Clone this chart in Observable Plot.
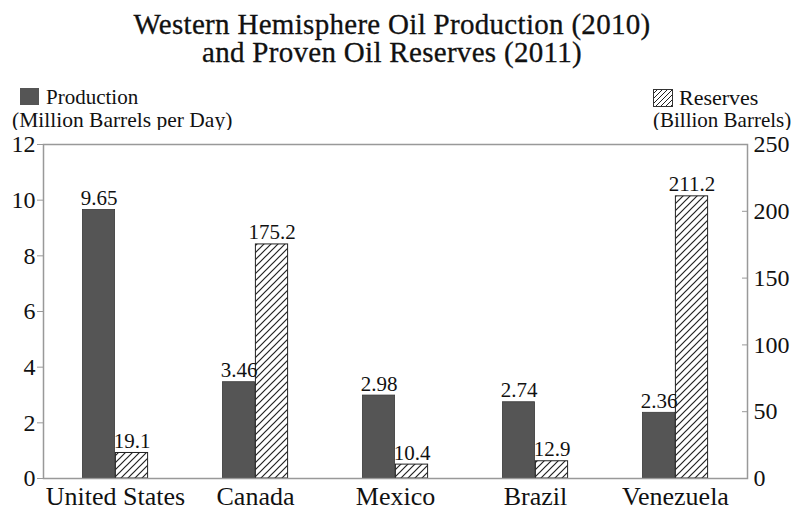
<!DOCTYPE html>
<html>
<head>
<meta charset="utf-8">
<script src="https://cdn.jsdelivr.net/npm/d3@7"></script>
<script src="https://cdn.jsdelivr.net/npm/@observablehq/plot@0.6"></script>
<style>
  html, body { margin: 0; padding: 0; background: white; }
  #wrap { position: relative; width: 791px; height: 512px; color: #111; }
  .t { position: absolute; white-space: nowrap; font-family: 'Liberation Serif', serif; }
  .title { left: 0; width: 784px; text-align: center; font-size: 29px; line-height: 28px; letter-spacing: 0.3px; -webkit-text-stroke: 0.3px #111; }
  .leg { font-size: 21px; line-height: 21px; }
  #chart { position: absolute; left: 0; top: 130px; }
</style>
</head>
<body style="font-family:'Liberation Serif', serif">
<div id="wrap">
  <div class="t title" style="top:10px;">Western Hemisphere Oil Production (2010)</div>
  <div class="t title" style="top:38px;">and Proven Oil Reserves (2011)</div>
  <div class="t leg" style="left:20px; top:87px;"><span style="display:inline-block;width:19px;height:17px;background:#555;vertical-align:-1px;margin-right:7px;"></span>Production</div>
  <div class="t leg" style="left:12px; top:110px; font-size:21.5px;">(Million Barrels per Day)</div>
  <div class="t leg" style="left:653px; top:87px; font-size:22px;"><svg width="20" height="18" style="vertical-align:-2px;margin-right:6px;"><defs><pattern id="hatchLeg" patternUnits="userSpaceOnUse" width="5" height="5"><rect width="5" height="5" fill="white"/><path d="M0,5 L5,0 M-1,1 L1,-1 M4,6 L6,4" stroke="#222" stroke-width="1"/></pattern></defs><rect x="0.5" y="0.5" width="19" height="17" fill="url(#hatchLeg)" stroke="#333" stroke-width="1"/></svg>Reserves</div>
  <div class="t leg" style="left:653px; top:110px;">(Billion Barrels)</div>
  <div id="chart"></div>
</div>
<script>
const countries = ["United States", "Canada", "Mexico", "Brazil", "Venezuela"];
const production = [9.65, 3.46, 2.98, 2.74, 2.36];
const reserves = [19.1, 175.2, 10.4, 12.9, 211.2];
const productionTicks = [0, 2, 4, 6, 8, 10, 12];
const reserveTicks = [0, 50, 100, 150, 200, 250];

const prodMax = 12, resMax = 250;
const toProd = v => v * prodMax / resMax;

const rows = countries.map((c, i) => ({
  country: c,
  production: production[i],
  reserves: reserves[i],
  reservesScaled: toProd(reserves[i])
}));

const W = 791, mL = 43, mR = 44;
const band = (W - mL - mR) / countries.length;
const barW = 33;
const half = band / 2;
const serif = "'Liberation Serif', serif";

const chart = Plot.plot({
  width: W,
  height: 382,
  marginLeft: mL,
  marginRight: mR,
  marginTop: 14,
  marginBottom: 34,
  style: { fontFamily: serif, fontSize: "24px", color: "#111", background: "white", overflow: "visible" },
  x: { domain: countries, padding: 0, axis: null },
  y: { domain: [0, prodMax], axis: null },
  marks: [
    Plot.barY(rows, { x: "country", y: "production", fill: "#555", stroke: "#3a3a3a", strokeWidth: 0.8, insetLeft: half - barW, insetRight: half }),
    Plot.barY(rows, { x: "country", y: "reservesScaled", fill: "url(#hatch)", stroke: "#222", strokeWidth: 1, insetLeft: half, insetRight: half - barW }),
    Plot.frame({ stroke: "#999", strokeWidth: 1.5 }),
    Plot.text(rows, { x: "country", y: "production", text: d => d.production.toFixed(2), dx: -barW / 2, dy: -5, lineAnchor: "bottom", fontSize: 21, fontFamily: serif, fill: "#111" }),
    Plot.text(rows, { x: "country", y: "reservesScaled", text: d => d.reserves.toFixed(1), dx: barW / 2, dy: -5, lineAnchor: "bottom", fontSize: 21, fontFamily: serif, fill: "#111" }),
    Plot.axisY({ anchor: "left", ticks: productionTicks, tickSize: 6, tickPadding: 2, stroke: "#999", fill: "#111", fontSize: 24, fontFamily: serif, label: null }),
    Plot.axisY({ anchor: "right", ticks: reserveTicks.map(toProd), tickFormat: d => String(Math.round(d * resMax / prodMax)), tickSize: 0, tickPadding: 6, fill: "#111", fontSize: 24, fontFamily: serif, label: null }),
    Plot.axisY({ anchor: "right", ticks: reserveTicks.map(toProd), tickFormat: () => "", tickSize: 6, dx: -6, stroke: "#999", label: null }),
    Plot.axisX({ tickSize: 0, tickPadding: 8, fill: "#111", fontSize: 26, fontFamily: serif, label: null })
  ]
});

d3.select(chart).insert("defs", ":first-child").html(
  '<pattern id="hatch" patternUnits="userSpaceOnUse" width="7" height="7">' +
  '<rect width="7" height="7" fill="white"/>' +
  '<path d="M0,7 L7,0 M-1,1 L1,-1 M6,8 L8,6" stroke="#222" stroke-width="1.2"/>' +
  '</pattern>'
);

document.getElementById("chart").appendChild(chart);
</script>
</body>
</html>
